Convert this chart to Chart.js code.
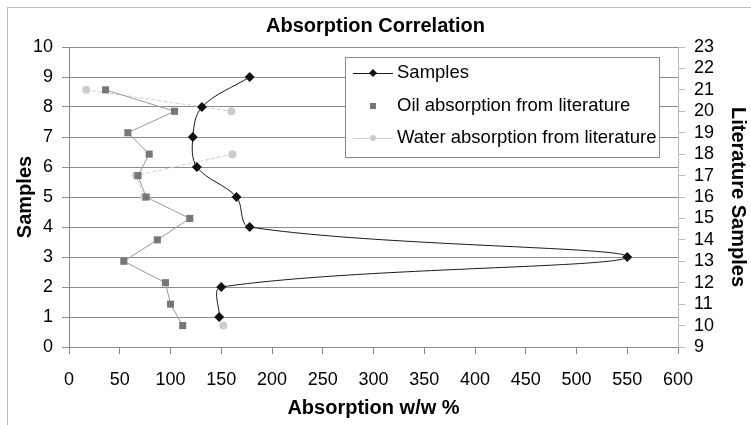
<!DOCTYPE html>
<html>
<head>
<meta charset="utf-8">
<script src="https://cdn.jsdelivr.net/npm/chart.js@4.4.0/dist/chart.umd.min.js"></script>
<style>
  body { margin: 0; background: #fff; }
  canvas { display: block; }
</style>
</head>
<body>
<canvas id="grafica" width="751" height="425"></canvas>
<script>
// samples (left axis)
var sampleNo = [9, 8, 7, 6, 5, 4, 3, 2, 1];
var samples = [178, 131, 122, 126, 165, 178, 550, 150, 148];
// literature (right axis)
var litNo = [21, 20, 19, 18, 17, 16, 15, 14, 13, 12, 11, 10];
var oil = [36, 104, 58, 79, 68, 76, 119, 87, 54, 95, 100, 112];
var water = [17, 160, null, 161, 66, 74, null, null, null, null, null, 152];

var xTicks = [0, 50, 100, 150, 200, 250, 300, 350, 400, 450, 500, 550, 600];

function pares(xs, ys) {
	return xs.map(function (v, i) {
		return { x: v, y: v === null ? null : ys[i] };
	});
}

Chart.defaults.font.family = "'Liberation Sans', Arial, sans-serif";
Chart.defaults.color = '#000';

// marco exterior y fondo
var fondo = {
	id: 'fondo',
	beforeDraw: function (chart) {
		var ctx = chart.ctx;
		ctx.save();
		ctx.fillStyle = '#fff';
		ctx.fillRect(0, 0, chart.width, chart.height);
		ctx.strokeStyle = '#bdbdbd';
		ctx.lineWidth = 1;
		ctx.strokeRect(7.5, 7.5, chart.width + 20, chart.height + 20);
		ctx.restore();
	}
};

function marca(ctx, estilo, x, y, r, color) {
	ctx.fillStyle = color;
	ctx.beginPath();
	if (estilo === 'rectRot') {
		ctx.moveTo(x, y - r); ctx.lineTo(x + r, y); ctx.lineTo(x, y + r); ctx.lineTo(x - r, y);
		ctx.closePath();
	} else if (estilo === 'rect') {
		ctx.rect(x - r, y - r, 2 * r, 2 * r);
	} else {
		ctx.arc(x, y, r, 0, Math.PI * 2);
	}
	ctx.fill();
}

// leyenda dentro del area
var leyenda = {
	id: 'leyenda',
	afterDraw: function (chart) {
		var ctx = chart.ctx, a = chart.chartArea;
		var bx = a.right - 333, by = a.top + 10, bw = 314, bh = 100;
		ctx.save();
		ctx.fillStyle = '#fff';
		ctx.fillRect(bx, by, bw, bh);
		ctx.strokeStyle = '#8a8a8a';
		ctx.lineWidth = 1;
		ctx.strokeRect(bx + 0.5, by + 0.5, bw, bh);
		ctx.font = "18.5px 'Liberation Sans', Arial, sans-serif";
		ctx.textBaseline = 'middle';
		var filas = [16, 49, 81];
		chart.data.datasets.forEach(function (ds, i) {
			var y = by + filas[i];
			if (ds.leyendaLinea) {
				ctx.strokeStyle = ds.borderColor;
				ctx.beginPath();
				ctx.moveTo(bx + 8, y + 0.5);
				ctx.lineTo(bx + 48, y + 0.5);
				ctx.stroke();
			}
			marca(ctx, ds.pointStyle, bx + 28, y, ds.leyendaR, ds.pointBackgroundColor);
			ctx.fillStyle = '#000';
			ctx.fillText(ds.label, bx + 52, y);
		});
		ctx.restore();
	}
};

new Chart(document.getElementById('grafica').getContext('2d'), {
	type: 'scatter',
	data: {
		datasets: [{
			label: 'Samples',
			data: pares(samples, sampleNo),
			yAxisID: 'y',
			showLine: true,
			tension: 0.35,
			borderColor: '#1a1a1a',
			borderWidth: 1,
			pointStyle: 'rectRot',
			pointRadius: 5,
			pointBackgroundColor: '#111',
			pointBorderWidth: 0,
			leyendaLinea: true,
			leyendaR: 4
		}, {
			label: 'Oil absorption from literature',
			data: pares(oil, litNo),
			yAxisID: 'y2',
			showLine: true,
			tension: 0,
			borderColor: '#9a9a9a',
			borderWidth: 1,
			pointStyle: 'rect',
			pointRadius: 5,
			pointBackgroundColor: '#777',
			pointBorderWidth: 0,
			leyendaLinea: false,
			leyendaR: 3
		}, {
			label: 'Water absorption from literature',
			data: pares(water, litNo),
			yAxisID: 'y2',
			showLine: true,
			spanGaps: false,
			tension: 0,
			borderColor: '#cfcfcf',
			borderWidth: 1,
			borderDash: [4, 2],
			pointStyle: 'circle',
			pointRadius: 4,
			pointBackgroundColor: '#cccccc',
			pointBorderWidth: 0,
			leyendaLinea: true,
			leyendaR: 3
		}]
	},
	options: {
		responsive: false,
		animation: false,
		layout: { padding: 0 },
		plugins: {
			legend: { display: false },
			tooltip: { enabled: false },
			title: {
				display: true,
				text: 'Absorption Correlation',
				font: { size: 20, weight: 'bold' },
				padding: { top: 14, bottom: 9 }
			}
		},
		scales: {
			x: {
				type: 'linear',
				min: 0,
				max: 600,
				afterBuildTicks: function (s) { s.ticks = xTicks.map(function (v) { return { value: v }; }); },
				afterFit: function (s) { s.height = 78; },
				grid: { drawOnChartArea: false, tickLength: 7, color: '#888' },
				border: { color: '#888' },
				ticks: { font: { size: 18 }, padding: 15, maxRotation: 0, autoSkip: false },
				title: { display: true, text: 'Absorption w/w %', font: { size: 20, weight: 'bold' }, padding: { top: 0, bottom: 5 } }
			},
			y: {
				position: 'left',
				min: 0,
				max: 10,
				ticks: { stepSize: 1, font: { size: 18 }, padding: 9, autoSkip: false },
				afterFit: function (s) { s.width = 69; },
				grid: { tickLength: 7, color: '#8c8c8c' },
				border: { color: '#888' },
				title: { display: true, text: 'Samples', font: { size: 20, weight: 'bold' }, padding: { top: 13, bottom: 0 } }
			},
			y2: {
				position: 'right',
				min: 9,
				max: 23,
				ticks: { stepSize: 1, font: { size: 18 }, padding: 9, autoSkip: false },
				afterFit: function (s) { s.width = 73; },
				grid: { drawOnChartArea: false, tickLength: 7, color: '#bbb' },
				border: { color: '#bbb' },
				title: { display: true, text: 'Literature Samples', font: { size: 20, weight: 'bold' }, padding: { top: 1, bottom: 0 } }
			}
		}
	},
	plugins: [fondo, leyenda]
});
</script>
</body>
</html>
